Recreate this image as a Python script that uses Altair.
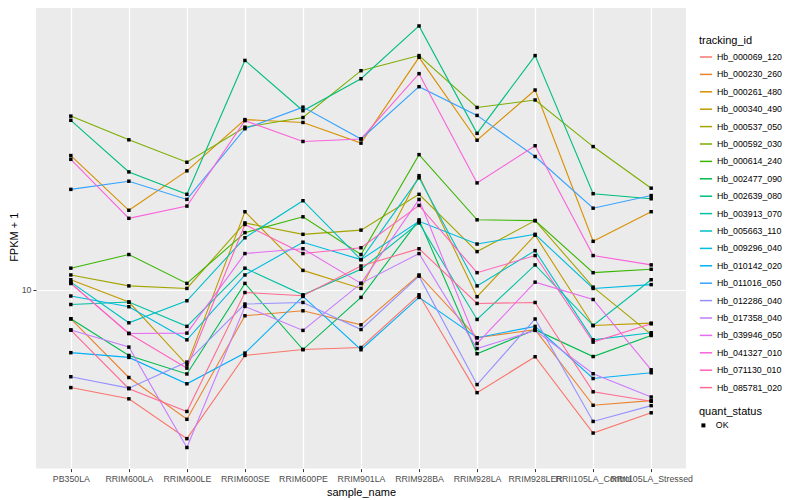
import altair as alt
import pandas as pd

samples = ["PB350LA", "RRIM600LA", "RRIM600LE", "RRIM600SE", "RRIM600PE",
           "RRIM901LA", "RRIM928BA", "RRIM928LA", "RRIM928LER",
           "RRII105LA_Control", "RRII105LA_Stressed"]

tracking_ids = ["Hb_000069_120", "Hb_000230_260", "Hb_000261_480", "Hb_000340_490",
                "Hb_000537_050", "Hb_000592_030", "Hb_000614_240", "Hb_002477_090",
                "Hb_002639_080", "Hb_003913_070", "Hb_005663_110", "Hb_009296_040",
                "Hb_010142_020", "Hb_011016_050", "Hb_012286_040", "Hb_017358_040",
                "Hb_039946_050", "Hb_041327_010", "Hb_071130_010", "Hb_085781_020"]

palette = ["#F8766D", "#EA8331", "#D89000", "#C09B00", "#A3A500", "#7CAE00", "#39B600",
           "#00BB4E", "#00BF7D", "#00C1A3", "#00BFC4", "#00BAE0", "#00B0F6", "#35A2FF",
           "#9590FF", "#C77CFF", "#E76BF3", "#FA62DB", "#FF62BC", "#FF6C91"]

# FPKM + 1 per sample (same order as samples)
Hb_000069_120 = [4.72, 4.33, 3.19, 6.04, 6.32, 6.42, 9.62, 4.54, 5.98, 3.33, 3.89]
Hb_000230_260 = [8.00, 5.10, 3.70, 8.19, 8.51, 7.64, 11.2, 6.92, 7.36, 4.12, 4.27]
Hb_000261_480 = [28.0, 18.4, 24.9, 36.9, 36.1, 30.8, 59.5, 31.5, 46.3, 14.5, 18.2]
Hb_000340_490 = [10.8, 9.10, 5.62, 18.2, 11.6, 10.1, 24.0, 9.48, 15.2, 7.60, 7.74]
Hb_000537_050 = [11.2, 10.3, 10.1, 16.7, 15.3, 15.8, 20.8, 13.4, 17.0, 10.2, 7.10]
Hb_000592_030 = [37.9, 31.6, 26.6, 34.8, 37.5, 53.7, 60.3, 40.5, 42.9, 30.0, 21.8]
Hb_000614_240 = [11.8, 13.1, 10.5, 15.5, 17.5, 13.1, 28.2, 17.1, 17.0, 11.4, 11.7]
Hb_002477_090 = [8.00, 6.04, 5.24, 10.5, 6.32, 9.43, 17.1, 6.12, 7.36, 5.99, 7.04]
Hb_002639_080 = [36.7, 24.7, 20.8, 58.1, 39.5, 50.5, 75.7, 33.2, 60.3, 20.9, 20.1]
Hb_003913_070 = [8.93, 9.10, 7.55, 11.8, 9.62, 11.7, 16.7, 7.96, 12.1, 7.60, 10.8]
Hb_005663_110 = [10.6, 7.76, 9.19, 14.9, 19.8, 12.6, 23.6, 10.3, 13.5, 6.81, 7.19]
Hb_009296_040 = [9.53, 8.78, 6.81, 11.2, 14.4, 12.6, 16.9, 14.2, 15.3, 10.1, 10.4]
Hb_010142_020 = [6.17, 5.95, 4.86, 6.15, 9.50, 6.31, 9.43, 6.92, 7.55, 5.06, 5.29]
Hb_011016_050 = [21.6, 23.0, 20.0, 34.4, 40.6, 31.8, 47.5, 38.1, 27.8, 18.7, 20.6]
Hb_012286_040 = [5.13, 4.70, 5.74, 8.96, 9.07, 7.37, 11.1, 4.83, 7.99, 3.64, 4.11]
Hb_017358_040 = [7.34, 6.44, 2.98, 8.80, 7.32, 10.5, 13.2, 6.37, 7.32, 5.25, 4.39]
Hb_039946_050 = [10.5, 7.15, 7.17, 13.2, 13.7, 10.5, 20.0, 6.62, 10.6, 9.28, 5.41]
Hb_041327_010 = [27.2, 17.3, 19.0, 36.6, 31.2, 31.8, 52.5, 22.7, 30.2, 13.0, 12.1]
Hb_071130_010 = [10.5, 7.15, 5.48, 16.5, 13.2, 13.8, 19.1, 11.4, 13.0, 6.69, 7.70]
Hb_085781_020 = [7.34, 4.68, 3.93, 9.79, 9.55, 12.0, 13.7, 9.00, 9.07, 4.57, 4.25]

series = {
    "Hb_000069_120": Hb_000069_120, "Hb_000230_260": Hb_000230_260,
    "Hb_000261_480": Hb_000261_480, "Hb_000340_490": Hb_000340_490,
    "Hb_000537_050": Hb_000537_050, "Hb_000592_030": Hb_000592_030,
    "Hb_000614_240": Hb_000614_240, "Hb_002477_090": Hb_002477_090,
    "Hb_002639_080": Hb_002639_080, "Hb_003913_070": Hb_003913_070,
    "Hb_005663_110": Hb_005663_110, "Hb_009296_040": Hb_009296_040,
    "Hb_010142_020": Hb_010142_020, "Hb_011016_050": Hb_011016_050,
    "Hb_012286_040": Hb_012286_040, "Hb_017358_040": Hb_017358_040,
    "Hb_039946_050": Hb_039946_050, "Hb_041327_010": Hb_041327_010,
    "Hb_071130_010": Hb_071130_010, "Hb_085781_020": Hb_085781_020,
}

rows = []
for tid in tracking_ids:
    for s, v in zip(samples, series[tid]):
        rows.append({"sample_name": s, "tracking_id": tid, "fpkm": v, "quant_status": "OK"})
df = pd.DataFrame(rows)

FONT = "Liberation Sans"

x = alt.X("sample_name:N", sort=samples,
          scale=alt.Scale(type="point", padding=0.6),
          axis=alt.Axis(title="sample_name", labelAngle=0, labelOverlap=False,
                        grid=True, labelPadding=3, titlePadding=3))
y = alt.Y("fpkm:Q",
          scale=alt.Scale(type="log", domain=[2.535, 88.9], nice=False),
          axis=alt.Axis(title="FPKM + 1", values=[10], format="d", grid=True,
                        labelPadding=2, titlePadding=2))

lines = alt.Chart(df).mark_line(strokeWidth=1.1).encode(
    x=x, y=y,
    color=alt.Color("tracking_id:N",
                    scale=alt.Scale(domain=tracking_ids, range=palette),
                    legend=alt.Legend(title="tracking_id", orient="none",
                                      legendX=663, legendY=30,
                                      symbolType="stroke", symbolStrokeWidth=1.5,
                                      symbolSize=150, rowPadding=5.4,
                                      titlePadding=4, labelFontSize=8.8,
                                      titleFontSize=11, labelOffset=4)),
)

points = alt.Chart(df).mark_point(shape="square", filled=True, size=12,
                                  color="black", opacity=1).encode(
    x=x, y=y,
    shape=alt.Shape("quant_status:N",
                    scale=alt.Scale(domain=["OK"], range=["square"]),
                    legend=alt.Legend(title="quant_status", orient="none",
                                      legendX=663, legendY=401,
                                      symbolFillColor="black", symbolStrokeColor="black",
                                      symbolSize=16, titlePadding=4,
                                      labelFontSize=8.8, titleFontSize=11,
                                      labelOffset=8)),
)

chart = alt.layer(lines, points).properties(
    width=650, height=463.6,
    background="#FFFFFF",
    view=alt.ViewBackground(fill="#EBEBEB", stroke=None),
    padding={"left": 0, "top": -3, "right": 0, "bottom": 0},
).configure_view(
    fill="#EBEBEB", stroke=None
).configure_axis(
    domain=False, gridColor="#FFFFFF", gridWidth=1.2,
    tickColor="#333333", tickSize=3, labelColor="#4D4D4D",
    labelFont=FONT, titleFont=FONT, labelFontSize=8.8, titleFontSize=11,
    titleFontWeight="normal", titleColor="#000000"
).configure_legend(
    labelFont=FONT, titleFont=FONT, titleFontWeight="normal",
    titleColor="#000000", labelColor="#000000", padding=0
)

chart.save("out.html", embed_options={"renderer": "svg", "actions": False})
